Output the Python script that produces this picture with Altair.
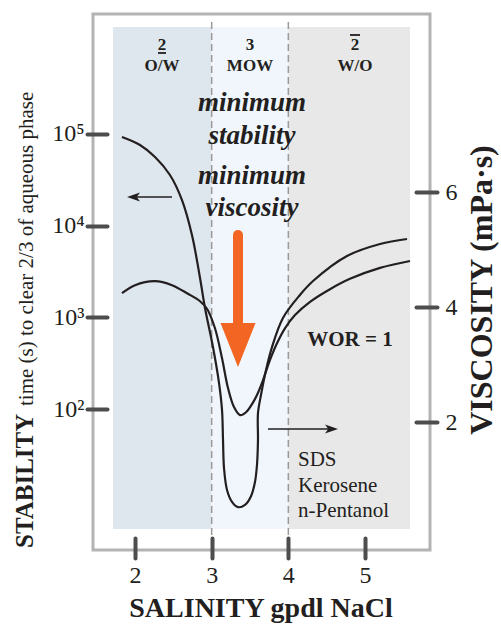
import altair as alt
import pandas as pd

# ---------------- data ----------------
# stability curve (left, log axis): salinity (g/dl NaCl) -> time (s)
salinity_stab = [1.830, 2.065, 2.261, 2.456, 2.613, 2.743, 2.848, 2.913, 3.017, 3.096,
                 3.135, 3.148, 3.161, 3.200, 3.265, 3.343, 3.435, 3.513, 3.565, 3.591,
                 3.604, 3.604, 3.643, 3.709, 3.787, 3.930, 4.152, 4.322, 4.765, 5.196, 5.548]
stability_s = [92700, 75900, 56100, 35700, 19000, 7900, 2690, 1265, 474, 192,
               97.5, 45.9, 22.7, 13.1, 9.7, 8.5, 9.0, 11.2, 16.0, 24.5,
               46, 90, 142, 267, 474, 985, 1755, 2490, 4670, 6310, 7160]

# viscosity curve (right, linear axis): salinity -> viscosity (mPa.s)
salinity_visc = [1.830, 2.000, 2.261, 2.483, 2.691, 2.848, 2.939, 3.043, 3.135, 3.213,
                 3.291, 3.370, 3.448, 3.526, 3.591, 3.670, 3.761, 3.852, 3.956, 4.087,
                 4.283, 4.543, 4.804, 5.196, 5.587]
viscosity_mpas = [4.24, 4.38, 4.45, 4.38, 4.23, 4.10, 3.97, 3.63, 3.11, 2.59,
                  2.26, 2.12, 2.17, 2.31, 2.47, 2.73, 3.08, 3.37, 3.63, 3.86,
                  4.09, 4.31, 4.49, 4.68, 4.80]

x_ticks = [2, 3, 4, 5]
stab_ticks = [100, 1000, 10000, 100000]
visc_ticks = [2, 4, 6]

region_start = [1.713, 3.0, 4.0]
region_end = [3.0, 4.0, 5.587]
region_color = ["#dfe7ee", "#f0f6fb", "#e8e8e8"]
phase_boundaries = [3, 4]

# ---------------- styling ----------------
SERIF = "Liberation Serif"
INK = "#231f20"
TICK = "#4d4d4d"
ORANGE = "#f26522"
W, H = 337, 536

xscale = alt.Scale(domain=[1.4522, 5.8477], nice=False, zero=False)
yl_scale = alt.Scale(type="log", domain=[2.897, 2037000], nice=False)
yr_scale = alt.Scale(domain=[-0.226, 9.096], nice=False, zero=False)

x_axis = alt.Axis(values=x_ticks, offset=-12, tickSize=20, tickWidth=4, tickColor=TICK,
                  tickCap="round", domain=False, grid=False, labelFont=SERIF,
                  labelFontSize=24, labelColor=INK, labelPadding=5, title=None)

def X(field):
    return alt.X(field, type="quantitative", scale=xscale, axis=x_axis)

stab_df = pd.DataFrame({"sal": salinity_stab, "stab": stability_s,
                        "i": list(range(len(salinity_stab)))})
visc_df = pd.DataFrame({"sal": salinity_visc, "visc": viscosity_mpas})
reg_df = pd.DataFrame({"s": region_start, "e": region_end, "c": region_color})
bnd_df = pd.DataFrame({"b": phase_boundaries})

shade = alt.Chart(reg_df).mark_rect().encode(
    x=X("s"), x2="e", y=alt.value(13), y2=alt.value(515),
    color=alt.Color("c:N", scale=None))

dashed = alt.Chart(bnd_df).mark_rule(color="#9a9a9a", strokeWidth=1.5, strokeDash=[7, 4]).encode(
    x=X("b"), y=alt.value(8), y2=alt.value(524))

stab_line = alt.Chart(stab_df).mark_line(color=INK, strokeWidth=2.2, interpolate="catmull-rom").encode(
    x=X("sal"),
    y=alt.Y("stab:Q", scale=yl_scale,
            axis=alt.Axis(orient="left", values=stab_ticks, offset=-14, tickSize=20, tickWidth=4,
                          tickColor=TICK, tickCap="round", domain=False, grid=False,
                          labelFont=SERIF, labelFontSize=24, labelColor=INK, labelPadding=3,
                          labelExpr="datum.value == 100 ? '10²' : datum.value == 1000 ? '10³' : datum.value == 10000 ? '10⁴' : '10⁵'",
                          title=None)),
    order="i:Q")

visc_line = alt.Chart(visc_df).mark_line(color=INK, strokeWidth=2.2, interpolate="catmull-rom").encode(
    x=X("sal"),
    y=alt.Y("visc:Q", scale=yr_scale,
            axis=alt.Axis(orient="right", values=visc_ticks, offset=-14, tickSize=21, tickWidth=4,
                          tickColor=TICK, tickCap="round", domain=False, grid=False,
                          labelFont=SERIF, labelFontSize=24, labelColor=INK, labelPadding=8,
                          title=None)))

one = pd.DataFrame({"a": [0]})

def txt(s, x, y, size, weight="normal", style="normal", align="center",
        baseline="middle", angle=0, color=INK):
    return alt.Chart(one).mark_text(
        text=s, font=SERIF, fontSize=size, fontWeight=weight, fontStyle=style,
        align=align, baseline=baseline, angle=angle, color=color
    ).encode(x=alt.value(x), y=alt.value(y))

def hline(x1, x2, y, color=INK, width=1.6, cap="butt"):
    return alt.Chart(one).mark_rule(color=color, strokeWidth=width, strokeCap=cap).encode(
        x=alt.value(x1), x2=alt.value(x2), y=alt.value(y))

def vline(x, y1, y2, color=INK, width=1.6, cap="butt"):
    return alt.Chart(one).mark_rule(color=color, strokeWidth=width, strokeCap=cap).encode(
        x=alt.value(x), y=alt.value(y1), y2=alt.value(y2))

def head(x, y, shape, size, color):
    return alt.Chart(one).mark_point(shape=shape, size=size, filled=True, fill=color,
                                     color=color, opacity=1, strokeWidth=0).encode(
        x=alt.value(x), y=alt.value(y))

annotations = [
    # phase labels
    txt("2", 69, 31, 17, "bold"), hline(65, 73, 39, width=1.8), txt("O/W", 69, 52, 17, "bold"),
    txt("3", 157, 31, 17, "bold"), txt("MOW", 157, 52, 17, "bold"),
    txt("2", 262, 31, 17, "bold"), hline(257, 267, 21, width=1.8), txt("W/O", 262, 52, 17, "bold"),
    # central italic note
    txt("minimum", 159, 89, 27, "bold", "italic"),
    txt("stability", 159, 122, 27, "bold", "italic"),
    txt("minimum", 159, 162, 27, "bold", "italic"),
    txt("viscosity", 159, 194, 27, "bold", "italic"),
    # orange arrow
    vline(145, 221, 318, ORANGE, 10, "round"),
    head(145, 331, "M-1,-1.26L1,-1.26L0,1.26Z", 1225, ORANGE),
    # axis-pointer arrows
    hline(40, 79, 183),
    head(40.5, 183, "M-1,0L1,-0.7L0.5,0L1,0.7Z", 169, INK),
    hline(175, 239, 415),
    head(238.5, 415, "M1,0L-1,-0.7L-0.5,0L-1,0.7Z", 169, INK),
    # side notes
    txt("WOR = 1", 257, 326, 21, "bold"),
    txt("SDS", 205, 446, 21, align="left"),
    txt("Kerosene", 205, 472, 21, align="left"),
    txt("n-Pentanol", 205, 497, 21, align="left"),
    # axis titles
    txt("SALINITY gpdl NaCl", 168, 603, 28, "bold", baseline="alphabetic"),
    txt("VISCOSITY (mPa·s)", 399, 276, 32, "bold", baseline="alphabetic", angle=270),
    txt("STABILITY", -60, 534, 25, "bold", align="left", baseline="alphabetic", angle=270),
    txt("time (s) to clear 2/3 of aqueous phase", -60, 392, 21, align="left",
        baseline="alphabetic", angle=270),
]

chart = alt.layer(shade, dashed, stab_line, visc_line, *annotations).resolve_scale(
    y="independent"
).properties(
    width=W, height=H,
    padding={"left": 93, "top": 14, "right": 71, "bottom": 76},
    autosize=alt.AutoSizeParams(type="none"),
    background="white",
).configure_view(stroke="#b3b3b3", strokeWidth=3)

chart.save("out.html", embed_options={"renderer": "svg", "actions": False})
